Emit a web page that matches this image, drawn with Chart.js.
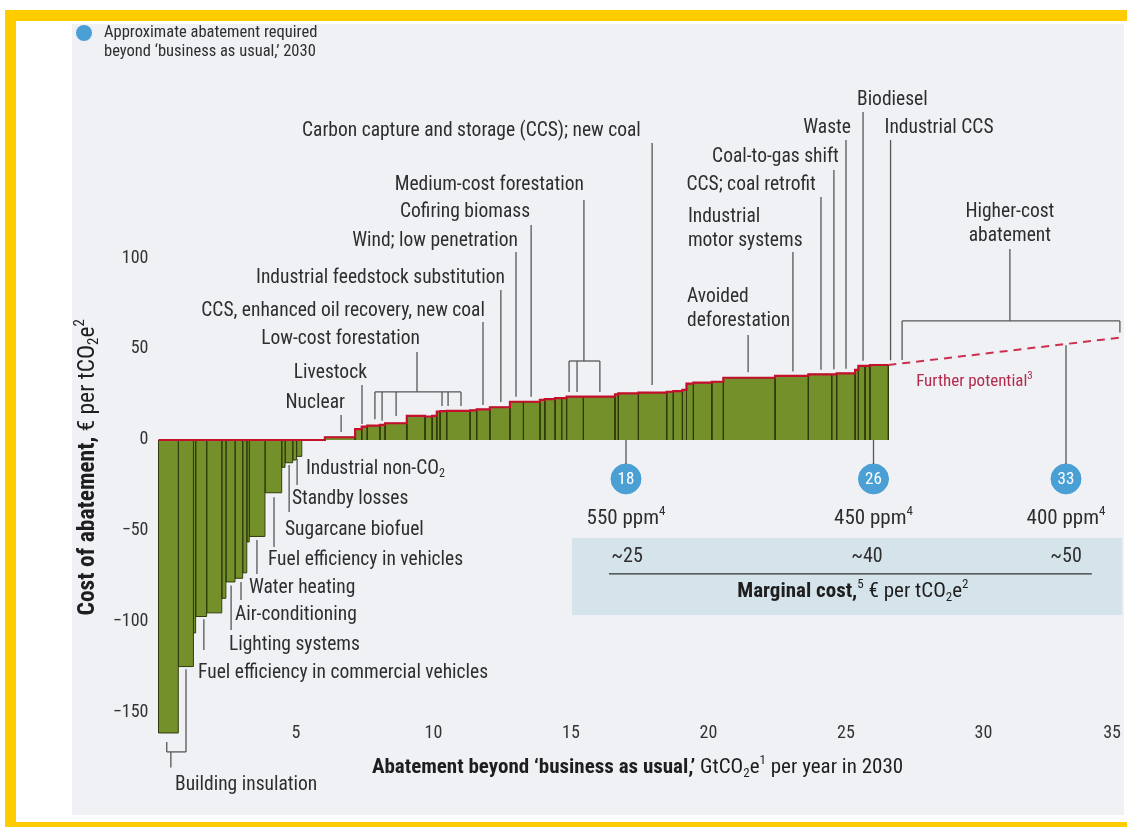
<!DOCTYPE html>
<html>
<head>
<meta charset="utf-8">
<script src="https://cdn.jsdelivr.net/npm/chart.js@4.4.0/dist/chart.umd.min.js"></script>
<style>
  body { margin: 0; background: #fff; }
  #wrap { position: relative; width: 1127px; height: 827px; overflow: hidden; background: #fff; }
  .yl { position: absolute; background: #ffcc00; }
  #panel { position: absolute; left: 72px; top: 24px; width: 1052px; height: 791px; background: #eff1f5; }
  canvas { position: absolute; left: 0; top: 0; }
</style>
</head>
<body>
<div id="wrap">
  <div class="yl" style="left:5px;top:10px;width:1122px;height:11px"></div>
  <div class="yl" style="left:5px;top:10px;width:11px;height:817px"></div>
  <div class="yl" style="left:5px;top:822px;width:1122px;height:5px"></div>
  <div id="panel"></div>
  <canvas id="myChart" width="1127" height="827"></canvas>
</div>
<script>
// width of each abatement lever, GtCO2e per year (read left to right)
var widths = [0.72,0.55,0.08,0.40,0.55,0.15,0.33,0.28,0.15,0.09,0.57,0.61,0.12,0.28,0.14,0.19,
  0.84,
  1.10,0.24,0.20,0.46,0.19,0.79,0.66,0.26,0.17,0.12,0.24,0.85,0.24,0.48,0.73,0.49,0.60,
  0.18,0.37,0.24,0.18,0.61,1.15,0.12,0.73,1.03,0.24,0.33,0.15,0.25,0.67,0.42,1.88,1.21,0.85,0.18,0.67,0.12,0.24,0.18,0.67];
// cost of each lever, EUR per tCO2e
var costs = [-161,-124.5,-106,-97,-95,-87,-78,-76,-73,-56,-53,-29,-15,-12.5,-11,-9,
  0,
  1.5,6,7.3,7.9,8.3,9.2,13.2,12.9,13.2,15.6,15.9,16.0,16.3,16.8,18,21,21,
  22,22.5,23,23,23.8,23.8,25.1,25.6,26,26.5,26.9,27.5,31,31.5,32,34.2,35.2,36.1,36.1,36.6,38.5,40.7,40.7,41.2];

// dashed "further potential" extension
var furtherX = [26.54, 35.04];
var furtherY = [41.2, 56.4];

// abatement required beyond BAU
var targetX = [17, 26, 33];
var targetLabels = ['18', '26', '33'];
var ppmLabels = ['550 ppm^{4}', '450 ppm^{4}', '400 ppm^{4}'];
var marginalCost = ['~25', '~40', '~50'];
var marginalX = [17.04, 25.76, 33.0];

var xTicks = [0, 5, 10, 15, 20, 25, 30, 35];
var yTicks = [-150, -100, -50, 0, 50, 100];

var FONT = "'Liberation Sans Narrow','Roboto Condensed',Roboto,sans-serif";
var TXT = '#2e2e2e', LEAD = '#565656';

// callout labels, placed in data units
var notes = [
  ['Carbon capture and storage (CCS); new coal', 17.54, 169.8, 'right'],
  ['Medium-cost forestation', 15.47, 140.1, 'right'],
  ['Cofiring biomass', 13.51, 125.3, 'right'],
  ['Wind; low penetration', 13.07, 109.3, 'right'],
  ['Industrial feedstock substitution', 12.6, 89, 'right'],
  ['CCS, enhanced oil recovery, new coal', 11.87, 70.9, 'right'],
  ['Low-cost forestation', 9.51, 55.5, 'right'],
  ['Livestock', 7.58, 36.8, 'right'],
  ['Nuclear', 6.78, 20.3, 'right'],
  ['Biodiesel', 25.4, 186.8, 'left'],
  ['Waste', 25.18, 171.4, 'right'],
  ['Industrial CCS', 26.4, 171.4, 'left'],
  ['Coal-to-gas shift', 24.74, 155.5, 'right'],
  ['CCS; coal retrofit', 23.9, 140.1, 'right'],
  ['Industrial', 19.25, 122.5, 'left'],
  ['motor systems', 19.25, 109.3, 'left'],
  ['Avoided', 19.22, 78.6, 'left'],
  ['deforestation', 19.22, 65.4, 'left'],
  ['Higher-cost', 30.96, 125.3, 'center'],
  ['abatement', 30.96, 112.1, 'center'],
  ['Industrial non-CO_{2}', 5.36, -15.9, 'left'],
  ['Standby losses', 4.85, -32.4, 'left'],
  ['Sugarcane biofuel', 4.6, -49.5, 'left'],
  ['Fuel efficiency in vehicles', 3.98, -65.9, 'left'],
  ['Water heating', 3.29, -81.3, 'left'],
  ['Air-conditioning', 2.78, -96.2, 'left'],
  ['Lighting systems', 2.56, -112.6, 'left'],
  ['Fuel efficiency in commercial vehicles', 1.44, -128, 'left'],
  ['Building insulation', 0.6, -189.6, 'left']
];
// leader lines [x1, y1, x2, y2] in data units
var leaders = [
  [17.95,163.2,17.95,30.2],
  [15.47,131.9,15.47,43.4],[14.93,43.4,16.05,43.4],[14.93,43.4,14.93,26.4],[15.22,43.4,15.22,26.4],[16.05,43.4,16.05,26.4],
  [13.55,118.1,13.55,23.8],
  [13.0,103.3,13.0,23.8],
  [12.45,82.4,12.45,20.9],
  [11.8,64.8,11.8,19.2],
  [9.4,48.4,9.4,26.4],[7.87,26.4,11.0,26.4],[7.87,26.4,7.87,11.4],[8.13,26.4,8.13,10.6],[8.64,26.4,8.64,13.2],
  [10.31,26.4,10.31,18.7],[10.53,26.4,10.53,18.7],[11.0,26.4,11.0,18.7],
  [7.4,30.2,7.4,8.8],
  [6.64,13.7,6.64,4.4],
  [25.62,180.2,25.62,43.5],
  [25.0,164.8,25.0,39.2],
  [26.62,164.8,26.62,43.8],
  [24.56,148.4,24.56,38.8],
  [24.09,133.5,24.09,38.6],
  [23.07,103.3,23.07,37.6],
  [21.44,57.7,21.44,37.2],
  [30.96,104.9,30.96,65.4],[27.04,65.4,34.96,65.4],[27.04,65.4,27.04,44],[34.96,65.4,34.96,59],
  [5.04,-10.5,5.04,-24.7],
  [4.75,-13.7,4.75,-39.6],
  [4.2,-31.4,4.2,-58.8],
  [3.58,-55,3.58,-73.6],
  [3.0,-78,3.0,-87.9],
  [2.64,-80,2.64,-104.4],
  [1.65,-98.5,1.65,-115.4],
  [1.0,-126,1.0,-171.4],[0.3,-166,0.3,-171.4],[0.3,-171.4,1.0,-171.4],[0.45,-171.4,0.45,-180],
  [17,0,17,-13.2],[26,0,26,-13.2],[33,52,33,-13.2]
];

function parseRich(s) {
  var out = [];
  s.split(/(\*\*[^*]+\*\*|_\{[^}]*\}|\^\{[^}]*\})/).forEach(function (p) {
    if (!p) return;
    if (p.indexOf('**') === 0) out.push({ t: p.slice(2, -2), k: 'b' });
    else if (p.indexOf('_{') === 0) out.push({ t: p.slice(2, -1), k: 'sub' });
    else if (p.indexOf('^{') === 0) out.push({ t: p.slice(2, -1), k: 'sup' });
    else out.push({ t: p, k: '' });
  });
  return out;
}
function fontFor(k, size) {
  var s = (k === 'sub' || k === 'sup') ? Math.round(size * 0.62) : size;
  return (k === 'b' ? 'bold ' : '') + s + 'px ' + FONT;
}
function drawRich(ctx, str, x, y, align, size, color) {
  var parts = parseRich(str), w = 0;
  parts.forEach(function (p) { ctx.font = fontFor(p.k, size); p.w = ctx.measureText(p.t).width; w += p.w; });
  var cx = align === 'right' ? x - w : align === 'center' ? x - w / 2 : x;
  ctx.fillStyle = color;
  ctx.textBaseline = 'middle';
  ctx.textAlign = 'left';
  parts.forEach(function (p) {
    ctx.font = fontFor(p.k, size);
    var dy = p.k === 'sub' ? size * 0.28 : p.k === 'sup' ? -size * 0.32 : 0;
    ctx.fillText(p.t, cx, y + dy);
    cx += p.w;
  });
}

// build the rectangles and the red outline from the lever arrays
var starts = [];
var acc = 0;
widths.forEach(function (w) { starts.push(acc); acc += w; });

var datasets = [];
var topLine = [];
costs.forEach(function (c, i) {
  var s = starts[i], e = s + widths[i];
  var v = Math.max(c, 0);
  topLine.push({ x: s, y: v }, { x: e, y: v });
  if (c === 0) return;
  datasets.push({
    data: [{ x: s, y: 0 }, { x: s, y: c }, { x: e, y: c }, { x: e, y: 0 }],
    borderColor: '#303b0c', borderWidth: 1, backgroundColor: '#74902a',
    fill: 'origin', pointRadius: 0, tension: 0, order: 3, clip: false
  });
});
datasets.push({
  data: topLine, borderColor: '#c4102c', borderWidth: 2.2, fill: false,
  pointRadius: 0, tension: 0, order: 1, clip: false
});
datasets.push({
  data: furtherX.map(function (x, i) { return { x: x, y: furtherY[i] }; }),
  borderColor: '#cc3050', borderWidth: 2, borderDash: [8, 6], fill: false,
  pointRadius: 0, order: 1, clip: false
});
datasets.push({
  data: targetX.map(function (x) { return { x: x, y: -21.4 }; }),
  showLine: false, pointRadius: 15, pointHoverRadius: 15,
  pointBackgroundColor: '#4a9fd5', pointBorderColor: '#4a9fd5', order: 0, clip: false
});

var notesPlugin = {
  id: 'notes',
  beforeDatasetsDraw: function (chart) {
    var c = chart.ctx, X = chart.scales.x, Y = chart.scales.y;
    // marginal cost band
    c.save();
    c.fillStyle = '#d5e3eb';
    var x0 = X.getPixelForValue(15.04), x1 = X.getPixelForValue(35.04);
    var y0 = Y.getPixelForValue(-53.8), y1 = Y.getPixelForValue(-96.2);
    c.fillRect(x0, y0, x1 - x0, y1 - y0);
    c.restore();
  },
  afterDatasetsDraw: function (chart) {
    var c = chart.ctx, X = chart.scales.x, Y = chart.scales.y;
    c.save();
    c.strokeStyle = LEAD;
    c.lineWidth = 1.3;
    leaders.forEach(function (l) {
      c.beginPath();
      c.moveTo(X.getPixelForValue(l[0]), Y.getPixelForValue(l[1]));
      c.lineTo(X.getPixelForValue(l[2]), Y.getPixelForValue(l[3]));
      c.stroke();
    });
    notes.forEach(function (n) {
      drawRich(c, n[0], X.getPixelForValue(n[1]), Y.getPixelForValue(n[2]), n[3], 19.5, TXT);
    });
    drawRich(c, 'Further potential^{3}', X.getPixelForValue(27.55), Y.getPixelForValue(31.9), 'left', 17, '#b42a4c');

    // circles: numbers and ppm labels
    targetX.forEach(function (x, i) {
      var px = X.getPixelForValue(x);
      drawRich(c, targetLabels[i], px, Y.getPixelForValue(-21.4) + 1, 'center', 17, '#ffffff');
      drawRich(c, ppmLabels[i], px, Y.getPixelForValue(-43.4), 'center', 21, TXT);
    });
    marginalCost.forEach(function (m, i) {
      drawRich(c, m, X.getPixelForValue(marginalX[i]), Y.getPixelForValue(-64.3), 'center', 20, TXT);
    });
    c.strokeStyle = '#333';
    c.lineWidth = 1.2;
    c.beginPath();
    c.moveTo(X.getPixelForValue(16.38), Y.getPixelForValue(-73.6));
    c.lineTo(X.getPixelForValue(33.94), Y.getPixelForValue(-73.6));
    c.stroke();
    drawRich(c, '**Marginal cost,**^{5} \u20ac per tCO_{2}e^{2}', X.getPixelForValue(25.25), Y.getPixelForValue(-83.5), 'center', 21, '#1e1e1e');

    // axis titles
    drawRich(c, '**Abatement beyond \u2018business as usual,\u2019** GtCO_{2}e^{1} per year in 2030',
      X.getPixelForValue(7.76), Y.getPixelForValue(-180), 'left', 21, '#1e1e1e');
    c.save();
    c.translate(88, Y.getPixelForValue(-15));
    c.rotate(-Math.PI / 2);
    drawRich(c, '**Cost of abatement,** \u20ac per tCO_{2}e^{2}', 0, 0, 'center', 23.5, '#1e1e1e');
    c.restore();

    // legend
    c.fillStyle = '#4a9fd5';
    c.beginPath();
    c.arc(84, 33, 8, 0, Math.PI * 2);
    c.fill();
    drawRich(c, 'Approximate abatement required', 104, 33, 'left', 16.5, TXT);
    drawRich(c, 'beyond \u2018business as usual,\u2019 2030', 104, 52, 'left', 16.5, TXT);
    c.restore();
  }
};

var myChart = new Chart(document.getElementById('myChart').getContext('2d'), {
  type: 'line',
  data: { datasets: datasets },
  plugins: [notesPlugin],
  options: {
    responsive: false,
    animation: false,
    devicePixelRatio: 1,
    layout: { autoPadding: false, padding: { top: 258, left: 0, right: 6, bottom: 0 } },
    plugins: { legend: { display: false }, tooltip: { enabled: false } },
    elements: { line: { borderJoinStyle: 'miter' } },
    scales: {
      x: {
        type: 'linear', min: 0, max: 35,
        grid: { display: false, drawTicks: false }, border: { display: false },
        afterBuildTicks: function (s) { s.ticks = xTicks.map(function (v) { return { value: v }; }); },
        ticks: {
          mirror: true, padding: -9, align: 'inner', color: '#333',
          font: { family: FONT, size: 18 },
          callback: function (v) { return v === 0 ? '' : v; }
        },
        afterFit: function (s) { s.height = 92.2; s.paddingLeft = 0; s.paddingRight = 0; }
      },
      y: {
        min: -162, max: 100,
        grid: { display: false, drawTicks: false }, border: { display: false },
        afterBuildTicks: function (s) { s.ticks = yTicks.map(function (v) { return { value: v }; }); },
        ticks: {
          padding: 10, color: '#333',
          font: { family: FONT, size: 18 },
          callback: function (v) { return (v < 0 ? '\u2212' : '') + Math.abs(v); }
        },
        afterFit: function (s) { s.width = 158.5; }
      }
    }
  }
});
</script>
</body>
</html>
